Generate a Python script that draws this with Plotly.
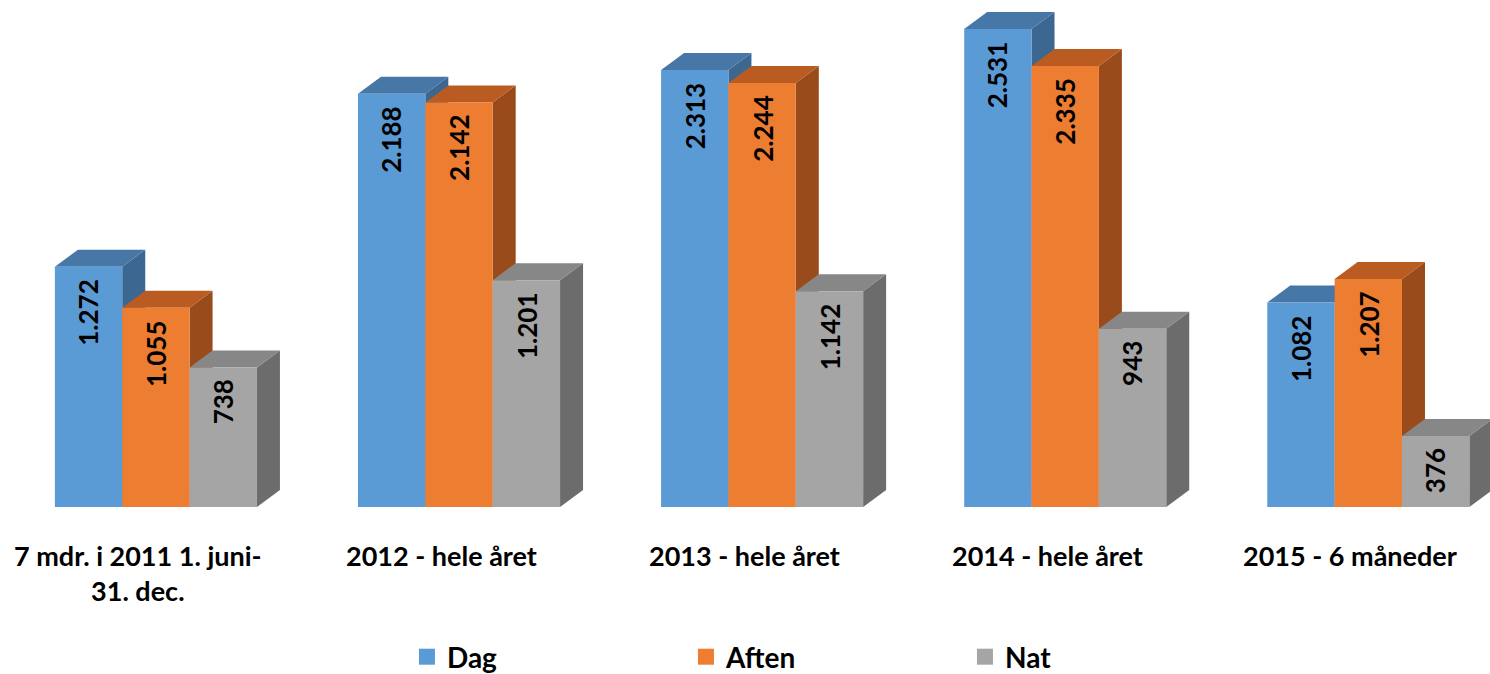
import plotly.graph_objects as go

# ---- data ----
categories = ["7 mdr. i 2011 1. juni-<br>31. dec.", "2012 - hele året", "2013 - hele året",
              "2014 - hele året", "2015 - 6 måneder"]
series_names = ["Dag", "Aften", "Nat"]
dag = [1272, 2188, 2313, 2531, 1082]
aften = [1055, 2142, 2244, 2335, 1207]
nat = [738, 1201, 1142, 943, 376]

# ---- styles ----
front_colors = ["#5B9BD5", "#ED7D31", "#A5A5A5"]
top_colors = ["#4777A7", "#BA5C22", "#878787"]
side_colors = ["#3C6791", "#9A4B1C", "#6C6C6C"]
FONT = "Lato"

W, H = 1490, 674
plot_bottom_px = 507
ymax = 2684
xr = [-0.5144, 4.4015]
px_per_cat = W / (xr[1] - xr[0])
px_per_val = plot_bottom_px / ymax
dx = 23 / px_per_cat   # depth offset, category units
dy = 17 / px_per_val   # depth offset, value units

bar_w = 2 / 9
offsets = [-1 / 3 + k * bar_w for k in range(3)]
values = [dag, aften, nat]

fig = go.Figure()
xs = list(range(len(categories)))
for k, (name, vals) in enumerate(zip(series_names, values)):
    fig.add_trace(go.Bar(x=xs, y=vals, name=name, width=bar_w, offset=offsets[k],
                         marker=dict(color=front_colors[k], line=dict(width=0)),
                         showlegend=False, hoverinfo="y"))

# 3D side and top faces, derived from the data
shapes = []
for i in xs:
    for k, vals in enumerate(values):
        h = vals[i]
        x0 = i + offsets[k]
        x1 = x0 + bar_w
        side = f"M {x1},{h} L {x1+dx},{h+dy} L {x1+dx},{dy} L {x1},0 Z"
        top = f"M {x0},{h} L {x1},{h} L {x1+dx},{h+dy} L {x0+dx},{h+dy} Z"
        shapes.append(dict(type="path", path=side, xref="x", yref="y", layer="below",
                           fillcolor=side_colors[k], line=dict(width=0)))
        shapes.append(dict(type="path", path=top, xref="x", yref="y", layer="below",
                           fillcolor=top_colors[k], line=dict(width=0)))

annotations = []
# data labels
for k, vals in enumerate(values):
    for i, v in enumerate(vals):
        annotations.append(dict(x=i + offsets[k] + bar_w / 2, y=v, xref="x", yref="y",
                                text=f"{v:,}".replace(",", "."), showarrow=False,
                                textangle=-90, yanchor="top", xanchor="center", yshift=-10,
                                font=dict(family=FONT, size=26, color="black", weight="bold")))
# category labels
for i, c in enumerate(categories):
    annotations.append(dict(x=i, y=0, xref="x", yref="paper", text=c, showarrow=False,
                            yanchor="top", xanchor="center", yshift=-30, xshift=-18,
                            font=dict(family=FONT, size=27, color="black", weight="bold")))

# legend entries
for k, name in enumerate(series_names):
    fig.add_trace(go.Scatter(x=[None], y=[None], mode="markers", name=name,
                             marker=dict(symbol="square", size=16, color=front_colors[k])))

fig.update_layout(
    width=W, height=H,
    margin=dict(l=0, r=0, t=0, b=H - plot_bottom_px, autoexpand=False),
    paper_bgcolor="white", plot_bgcolor="white",
    barmode="overlay",
    xaxis=dict(range=xr, showgrid=False, zeroline=False, showticklabels=False, ticks="",
               showline=False),
    yaxis=dict(range=[0, ymax], showgrid=False, zeroline=False, showticklabels=False,
               ticks="", showline=False),
    shapes=shapes, annotations=annotations,
    showlegend=True,
    legend=dict(orientation="h", x=0.554, xanchor="center", y=(plot_bottom_px - 657) / plot_bottom_px,
                yanchor="middle", entrywidth=234, entrywidthmode="pixels",
                font=dict(family=FONT, size=28, color="black", weight="bold")),
)

fig.write_html("out.html", config={"displayModeBar": False},
               post_script="document.body.style.margin='0';document.body.style.overflow='hidden';")
